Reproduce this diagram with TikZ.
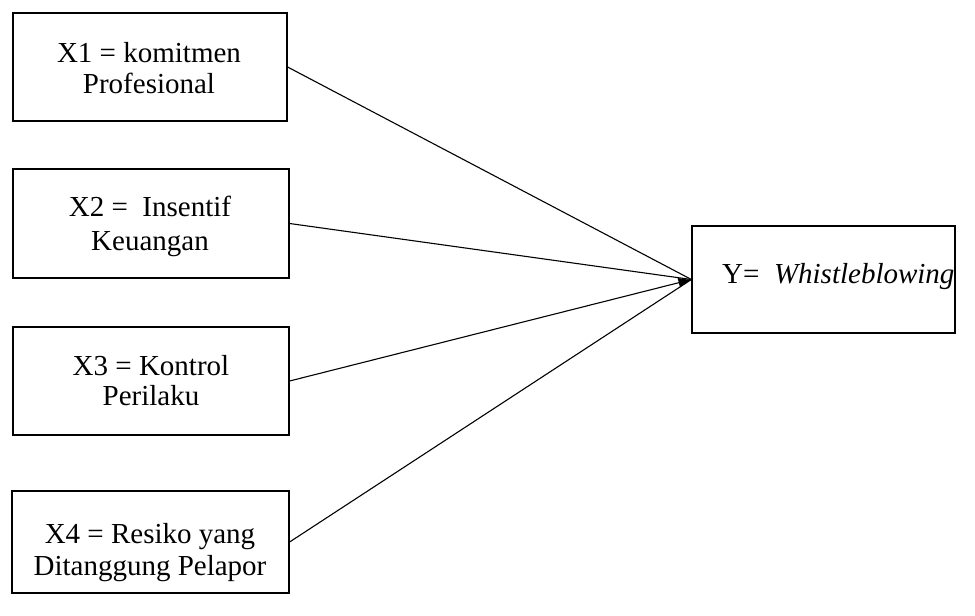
\documentclass[tikz,border=0pt]{standalone}
\usepackage{fontspec}
\setmainfont{Liberation Serif}
\usetikzlibrary{arrows.meta}
\begin{document}
\begin{tikzpicture}[x=1pt,y=-1pt,
  box/.style={draw,line width=1.2pt,inner sep=0pt,minimum width=#1},
  box/.default=276pt,
  txt/.style={anchor=base,inner sep=0pt,font=\fontsize{29}{32}\selectfont},
  link/.style={line width=1.1pt}]
\useasboundingbox (0,0) rectangle (975,616);
\node[box=274pt,minimum height=108pt] (x1) at (150,67) {};
\node[box,minimum height=109pt] (x2) at (151,223.5) {};
\node[box,minimum height=108pt] (x3) at (151,381) {};
\node[box=277pt,minimum height=102pt] (x4) at (150.5,542) {};
\node[box=263pt,minimum height=107pt] (y) at (823.5,279.5) {};
\node[txt] (x1a) at (149,62) {X1 = komitmen};
\node[txt] (x1b) at (149,93) {Profesional};
\node[txt] (x2a) at (150,216.5) {X2 =\ \ Insentif};
\node[txt] (x2b) at (150,250) {Keuangan};
\node[txt] (x3a) at (151,375) {X3 = Kontrol};
\node[txt] (x3b) at (151,405) {Perilaku};
\node[txt] (x4a) at (150,543) {X4 = Resiko yang};
\node[txt] (x4b) at (150,575) {Ditanggung Pelapor};
\node[txt,anchor=base west] (yt) at (722,283) {Y=\ \ \textit{Whistleblowing}};
\draw[link] (x1.east) -- (y.west);
\draw[link] (x2.east) -- (y.west);
\draw[link,-{Latex[length=13pt,width=10pt]}] (x3.east) -- (y.west);
\draw[link] (x4.east) -- (y.west);
\end{tikzpicture}
\end{document}
